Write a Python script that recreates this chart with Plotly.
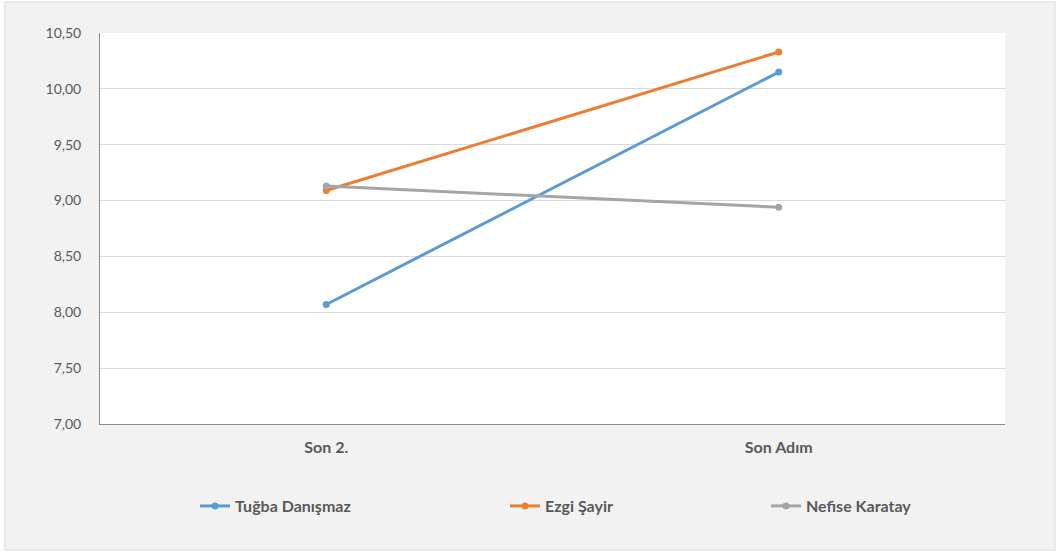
import plotly.graph_objects as go

# categorias e valores
categorias = ['Son 2.', 'Son Adım']
tugba = [8.07, 10.15]
ezgi = [9.09, 10.33]
nefise = [9.13, 8.94]
y_ticks = [7.0, 7.5, 8.0, 8.5, 9.0, 9.5, 10.0, 10.5]

fonte = "Lato, 'Open Sans', sans-serif"
cinza_texto = '#595959'

series = [
    ('Tuğba Danışmaz', tugba, '#5B9BD5', 'legend'),
    ('Ezgi Şayir', ezgi, '#ED7D31', 'legend2'),
    ('Nefise Karatay', nefise, '#A5A5A5', 'legend3'),
]

fig = go.Figure()
for nome, valores, cor, leg in series:
    fig.add_trace(go.Scatter(x=categorias, y=valores, name=nome, mode='lines+markers',
                             line=dict(color=cor, width=3),
                             marker=dict(color=cor, size=7),
                             legend=leg))

W, H = 1059, 554
L, R, T, B = 100, 54, 33, 130

def px_x(p):
    return (p - L) / (W - L - R)

def px_y(p):
    return (H - B - p) / (H - T - B)

leg_base = dict(orientation='h', xanchor='left', yanchor='middle', y=px_y(506),
                bgcolor='rgba(0,0,0,0)', itemwidth=30,
                font=dict(family=fonte, size=16, color=cinza_texto, weight='bold'))

fig.update_layout(
    width=W, height=H,
    margin=dict(l=L, r=R, t=T, b=B),
    paper_bgcolor='white',
    plot_bgcolor='white',
    font=dict(family=fonte, color=cinza_texto),
    separators=',.',
    showlegend=True,
    legend=dict(leg_base, x=px_x(195)),
    legend2=dict(leg_base, x=px_x(505)),
    legend3=dict(leg_base, x=px_x(766)),
    xaxis=dict(type='category', range=[-0.5, 1.5], showgrid=False,
               showline=True, linecolor='#8C8C8C', linewidth=1, ticks='',
               ticklabelstandoff=9,
               tickfont=dict(family=fonte, size=16, color=cinza_texto, weight='bold')),
    yaxis=dict(range=[7.0, 10.5], tickvals=y_ticks, tickformat='.2f',
               showgrid=True, gridcolor='#D9D9D9', gridwidth=1,
               showline=True, linecolor='#8C8C8C', linewidth=1, ticks='',
               zeroline=False, ticklabelstandoff=15,
               tickfont=dict(family=fonte, size=14, color=cinza_texto)),
    shapes=[
        # fundo cinza do gráfico com borda
        dict(type='rect', xref='paper', yref='paper', layer='below',
             x0=px_x(5), x1=px_x(1055), y0=px_y(2), y1=px_y(550),
             fillcolor='#F2F2F2', line=dict(color='#D9D9D9', width=1)),
        # área do plot em branco
        dict(type='rect', xref='paper', yref='paper', layer='below',
             x0=0, x1=1, y0=0, y1=1, fillcolor='white', line=dict(width=0)),
    ],
)

# tirando a margem padrão da página e a barra de ferramentas
fig.write_html("out.html", config={'displayModeBar': False},
               post_script="document.body.style.margin='0';")
